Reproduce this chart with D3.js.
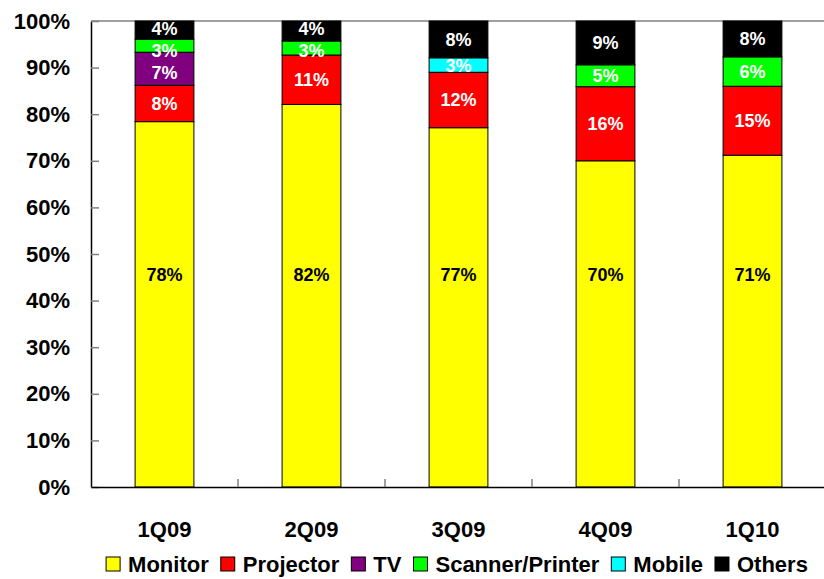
<!DOCTYPE html>
<html><head><meta charset="utf-8">
<script src="https://cdn.jsdelivr.net/npm/d3@7"></script>
<style>body{margin:0;background:#fff}</style>
</head><body><svg id="c" width="824" height="579"></svg>
<script>
const categories=["1Q09","2Q09","3Q09","4Q09","1Q10"];
const seriesNames=["Monitor","Projector","TV","Scanner/Printer","Mobile","Others"];
const seriesColors=["#ffff00","#ff0000","#800080","#00ff00","#00ffff","#000000"];
const monitor=[78.4,82.1,77.1,70.0,71.2];
const projector=[7.8,10.6,11.9,15.9,14.8];
const tv=[7.1,0,0,0,0];
const scanner=[2.8,3.0,0,4.7,6.3];
const mobile=[0,0,3.1,0,0];
const others=[3.9,4.3,7.9,9.4,7.7];
const yTicks=[0,10,20,30,40,50,60,70,80,90,100];
const monitorLabelLevel=45.5;

(function(){
const seriesValues=[monitor,projector,tv,scanner,mobile,others];
const FONT='"Liberation Sans", Arial, sans-serif';
const svg=d3.select("#c");
const W=824;
const pL=91,pR=826,pT=21,pB=487;

const x=d3.scaleBand().domain(categories).range([pL,pR]).paddingInner(0.6).paddingOuter(0.3);
const y=d3.scaleLinear().domain([0,100]).range([pB,pT]);

const table=categories.map((c,i)=>{const o={cat:c};seriesNames.forEach((s,j)=>o[s]=seriesValues[j][i]);return o;});
const stacked=d3.stack().keys(seriesNames)(table);

// top frame
svg.append("line").attr("x1",pL).attr("x2",W).attr("y1",pT).attr("y2",pT)
  .attr("stroke","#808080").attr("stroke-width",1.5);

// bars
const g=svg.append("g");
stacked.forEach((layer,j)=>{
  g.selectAll(null).data(layer.filter(d=>d[1]-d[0]>0)).enter().append("rect")
    .attr("x",d=>x(d.data.cat)).attr("width",x.bandwidth())
    .attr("y",d=>y(d[1])).attr("height",d=>y(d[0])-y(d[1]))
    .attr("fill",seriesColors[j]).attr("stroke","#000").attr("stroke-width",1);
});

// labels, with simple spacing relaxation per bar
const labels=[];
stacked.forEach((layer,j)=>{
  layer.forEach(d=>{
    if(d[1]-d[0]>0) labels.push({cat:d.data.cat,j,val:d[1]-d[0],
      ly: j===0?y(monitorLabelLevel):y((d[0]+d[1])/2)});
  });
});
const minGap=22;
categories.forEach(c=>{
  const L=labels.filter(l=>l.cat===c&&l.j>0).sort((a,b)=>a.ly-b.ly);
  for(let it=0;it<60;it++){
    for(let i=0;i<L.length-1;i++){
      const diff=L[i+1].ly-L[i].ly;
      if(diff<minGap){const s=(minGap-diff)/2;L[i].ly-=s;L[i+1].ly+=s;}
    }
    if(L.length&&L[0].ly<pT+8) L[0].ly=pT+8;
  }
});
g.selectAll(".lbl").data(labels).enter().append("text")
  .attr("x",d=>x(d.cat)+x.bandwidth()/2)
  .attr("y",d=>d.ly)
  .attr("dy","0.36em").attr("text-anchor","middle")
  .attr("font-family",FONT).attr("font-weight","bold").attr("font-size",18)
  .attr("fill",d=>d.j===0?"#000":"#fff")
  .text(d=>Math.round(d.val)+"%");

// y axis
const ya=svg.append("g").attr("transform",`translate(${pL},0)`)
  .call(d3.axisLeft(y).tickValues(yTicks).tickFormat(d=>d+"%").tickSizeInner(-8).tickSizeOuter(0).tickPadding(21));
ya.select(".domain").attr("stroke","#000").attr("stroke-width",1.5);
ya.selectAll(".tick line").attr("stroke","#808080").attr("stroke-width",1.5);
ya.selectAll(".tick text").attr("font-family",FONT).attr("font-weight","bold").attr("font-size",22).attr("fill","#000");

// x axis
const xa=svg.append("g").attr("transform",`translate(0,${pB})`)
  .call(d3.axisBottom(x).tickSizeInner(0).tickSizeOuter(0).tickPadding(34));
xa.select(".domain").attr("stroke","#000").attr("stroke-width",1.5);
xa.selectAll(".tick text").attr("font-family",FONT).attr("font-weight","bold").attr("font-size",22).attr("fill","#000");
const gap=(x.step()-x.bandwidth())/2;
xa.selectAll(".btick").data(categories.slice(1)).enter().append("line")
  .attr("x1",d=>x(d)-gap).attr("x2",d=>x(d)-gap).attr("y1",0).attr("y2",-8)
  .attr("stroke","#808080").attr("stroke-width",1.5);

// legend
const lg=svg.append("g");
let cx=0;
seriesNames.forEach((s,j)=>{
  const it=lg.append("g");
  it.append("rect").attr("x",0).attr("y",-15).attr("width",14).attr("height",14)
    .attr("fill",seriesColors[j]).attr("stroke","#000").attr("stroke-width",1);
  const t=it.append("text").attr("x",22).attr("y",0).attr("font-family",FONT).attr("font-weight","bold")
    .attr("font-size",22).attr("fill","#000").text(s);
  const w=22+t.node().getComputedTextLength();
  it.attr("transform",`translate(${cx},0)`);
  cx+=w+12;
});
const total=cx-12;
lg.attr("transform",`translate(${457-total/2},572)`);
})();
</script>
</body></html>
